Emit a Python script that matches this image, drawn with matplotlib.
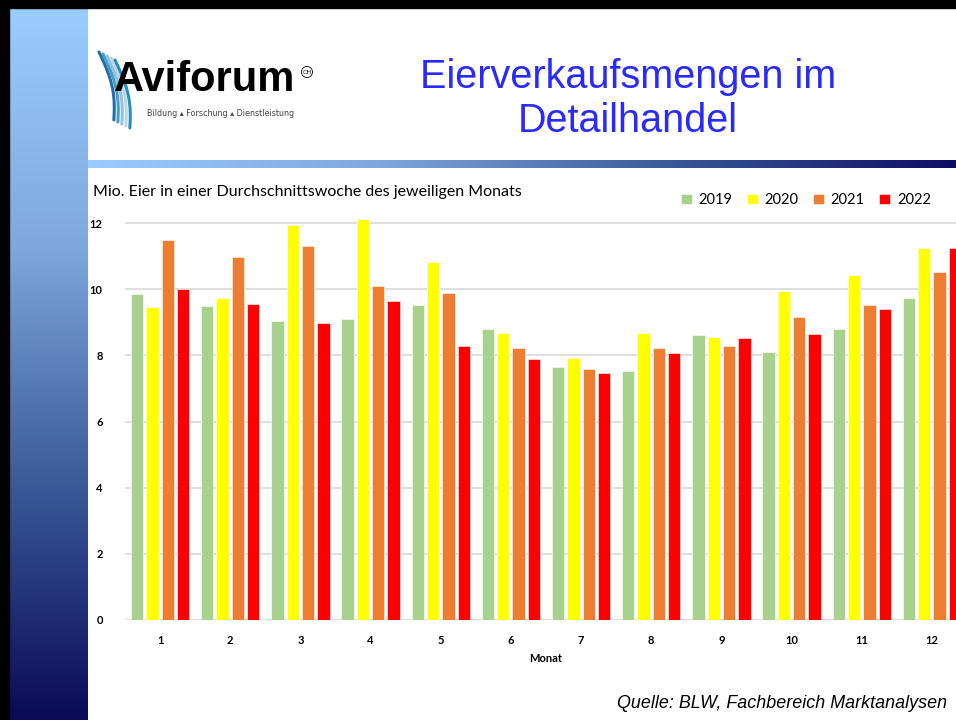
import numpy as np
import matplotlib
matplotlib.use("Agg")
import matplotlib.pyplot as plt
from matplotlib.colors import LinearSegmentedColormap

# Daten: Mio. Eier pro Durchschnittswoche
months = [1, 2, 3, 4, 5, 6, 7, 8, 9, 10, 11, 12]
years = ["2019", "2020", "2021", "2022"]
v2019 = [9.85, 9.48, 9.03, 9.09, 9.53, 8.81, 7.66, 7.52, 8.61, 8.11, 8.79, 9.74]
v2020 = [9.45, 9.74, 11.93, 12.11, 10.82, 8.68, 7.91, 8.69, 8.55, 9.95, 10.44, 11.25]
v2021 = [11.50, 10.96, 11.32, 10.11, 9.89, 8.22, 7.60, 8.23, 8.28, 9.15, 9.53, 10.52]
v2022 = [10.00, 9.54, 8.99, 9.63, 8.29, 7.89, 7.47, 8.06, 8.51, 8.64, 9.39, 11.24]
colors = ["#A9D18E", "#FFFF00", "#ED7D31", "#FF0000"]
yticks = [0, 2, 4, 6, 8, 10, 12]

W, H = 956, 720
fig = plt.figure(figsize=(W / 100, H / 100), dpi=100)
fig.patch.set_facecolor("white")

# Hintergrund (Folie)
bg = fig.add_axes([0, 0, 1, 1])
bg.set_xlim(0, W)
bg.set_ylim(H, 0)
bg.axis("off")

side_cmap = LinearSegmentedColormap.from_list("side", ["#99CCFF", "#7FA8DC", "#3A5A98", "#0A0A55"])
grad = np.linspace(0, 1, 256).reshape(-1, 1)
bg.imshow(grad, cmap=side_cmap, extent=[9, 88, H, 8], aspect="auto", zorder=1)
bar_cmap = LinearSegmentedColormap.from_list("bar", ["#99CCFF", "#7FA8DC", "#3A5A98", "#0D0D66"])
bg.imshow(grad.T, cmap=bar_cmap, extent=[88, W, 168, 160], aspect="auto", zorder=1)
# schwarzer Rahmen oben/links
bg.fill_between([0, W], 0, 8, color="black", zorder=2)
bg.fill_between([0, 9], 0, H, color="black", zorder=2)

# Logo
t = np.linspace(0, 1, 50)
for i, c in enumerate(["#1F6FA8", "#4A9BC8", "#8FC3DE", "#B8D8E8", "#2B8CBE"]):
    xs = 99 + i * 4 + 14 * t + 6 * np.sin(t * 3)
    ys = 52 + i * 2 + 68 * t
    bg.plot(xs, ys, color=c, lw=2.2, solid_capstyle="round", zorder=3)
bg.text(114, 80, "Aviforum", fontsize=30, fontweight="heavy", family="Liberation Sans",
        color="black", va="center", ha="left", zorder=4)
bg.text(307, 72, "CH", fontsize=4.5, color="black", ha="center", va="center", zorder=4,
        bbox=dict(boxstyle="circle,pad=0.15", fc="white", ec="black", lw=0.6))
bg.text(147, 113, "Bildung \u25b4 Forschung \u25b4 Dienstleistung", fontsize=5.8,
        color="#444444", va="center", ha="left", family="DejaVu Sans", zorder=4)

# Titel
bg.text(628, 99, "Eierverkaufsmengen im\nDetailhandel", fontsize=28.5, color="#2A2AFF",
        ha="center", va="center", family="Liberation Sans", linespacing=1.22, zorder=4)

# Achsentitel, Quelle
bg.text(93, 192, "Mio. Eier in einer Durchschnittswoche des jeweiligen Monats",
        fontsize=11.5, family="Lato", ha="left", va="center", color="black", zorder=4)
bg.text(617, 703, "Quelle: BLW, Fachbereich Marktanalysen", fontsize=12.9, style="italic",
        family="Liberation Sans", ha="left", va="center", color="black", zorder=4)

# Diagramm
ax = fig.add_axes([125 / W, 1 - 620 / H, 842 / W, 12.6 * 33.08 / H])
ax.set_facecolor("none")
x = np.array(months)
bw = 0.175
step = 0.218
series = [v2019, v2020, v2021, v2022]
for k, (vals, col, lab) in enumerate(zip(series, colors, years)):
    ax.bar(x + (k - 1.5) * step, vals, width=bw, color=col, edgecolor="white",
           linewidth=0.4, label=lab, zorder=3)

ax.set_xlim(0.5, 12.5)
ax.set_ylim(0, 12.6)
ax.set_yticks(yticks)
ax.set_xticks(months)
ax.set_xticklabels([str(m) for m in months])
ax.grid(axis="y", color="#D9D9D9", linewidth=1.2, zorder=0)
for s in ax.spines.values():
    s.set_visible(False)
ax.tick_params(length=0)
ax.tick_params(axis="y", pad=16)
ax.tick_params(axis="x", pad=11)
for lbl in ax.get_xticklabels() + ax.get_yticklabels():
    lbl.set_fontfamily("Lato")
    lbl.set_fontweight("bold")
    lbl.set_fontsize(8)
ax.set_xlabel("Monat", fontsize=8, fontweight="bold", family="Lato", labelpad=5)

ax.legend(ncol=4, frameon=False, handlelength=0.75, handleheight=0.75,
          columnspacing=1.0, handletextpad=0.45, loc="center right",
          bbox_to_anchor=(944 / W, 1 - 200 / H), bbox_transform=fig.transFigure,
          prop={"family": "Lato", "size": 10.5})

fig.savefig("out.png", dpi=100)
